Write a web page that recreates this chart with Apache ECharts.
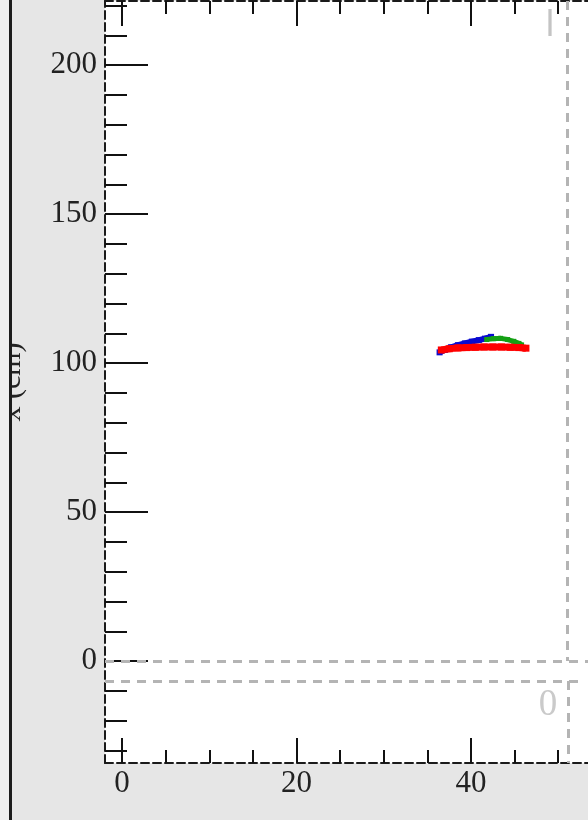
<!DOCTYPE html>
<html>
<head>
<meta charset="utf-8">
<script src="https://cdn.jsdelivr.net/npm/echarts@6/dist/echarts.min.js"></script>
<style>
  html, body { margin: 0; padding: 0; background: #e6e6e6; }
  #chart { width: 588px; height: 820px; }
</style>
</head>
<body>
<div id="chart"></div>
<script>
// Track points (x in cm along the beam, y = transverse x position in cm)
const blueX  = [36.4, 37.0, 37.7, 38.5, 39.3, 40.1, 40.9, 41.6, 42.3];
const blueY  = [103.6, 104.4, 105.3, 106.0, 106.6, 107.2, 107.7, 108.2, 108.8];
const greenX = [41.8, 42.6, 43.4, 44.2, 44.9, 45.5, 45.8];
const greenY = [107.9, 108.2, 108.3, 107.9, 107.3, 106.6, 106.1];
const redX   = [36.6, 37.5, 38.5, 39.5, 40.5, 41.5, 42.5, 43.5, 44.5, 45.5, 46.3];
const redY   = [104.4, 104.8, 105.1, 105.2, 105.3, 105.4, 105.4, 105.4, 105.3, 105.2, 105.0];

// Axis ticks and labels
const xMajor = [0, 20, 40];
const xMinor = [0, 5, 10, 15, 20, 25, 30, 35, 40, 45, 50, 55];
const yMajor = [0, 50, 100, 150, 200];
const yMinor = [-30, -20, -10, 0, 10, 20, 30, 40, 50, 60, 70, 80, 90, 100, 110,
                120, 130, 140, 150, 160, 170, 180, 190, 200, 210, 220];
const xRange = [-1.95, 56.05];
const yRange = [-34.2, 221.5];
const yTitle = 'x (cm)';

const pairs = (xs, ys) => xs.map((x, i) => [x, ys[i]]);

const chart = echarts.init(document.getElementById('chart'), null, { renderer: 'canvas' });

const serif = 'Liberation Serif, Times New Roman, serif';
const frameLine = { show: true, onZero: false, lineStyle: { color: '#1a1a1a', width: 2, type: [8, 4] } };
const noLine = { show: false, onZero: false };
const tickStyle = { color: '#111', width: 2 };

function xAxisDef(pos, ticks, len, labels, line) {
  return {
    type: 'value', position: pos, min: xRange[0], max: xRange[1],
    axisLine: line ? frameLine : noLine,
    splitLine: { show: false },
    axisTick: { show: true, inside: true, length: len, customValues: ticks, lineStyle: tickStyle },
    axisLabel: labels ? {
      show: true, customValues: labels, margin: 5,
      fontFamily: serif, fontSize: 31, color: '#222'
    } : { show: false }
  };
}
function yAxisDef(ticks, len, labels, line) {
  return {
    type: 'value', position: 'left', min: yRange[0], max: yRange[1],
    axisLine: line ? frameLine : noLine,
    splitLine: { show: false },
    axisTick: { show: true, inside: true, length: len, customValues: ticks, lineStyle: tickStyle },
    axisLabel: labels ? {
      show: true, customValues: labels, margin: 8,
      fontFamily: serif, fontSize: 31, color: '#222'
    } : { show: false }
  };
}

const padLine = { color: '#b4b4b4', width: 3, type: [9, 7] };

chart.setOption({
  backgroundColor: '#e6e6e6',
  animation: false,
  grid: {
    left: 105, top: 1, width: 506, height: 762,
    outerBoundsMode: 'none', containLabel: false,
    show: true, backgroundColor: '#ffffff', borderWidth: 0
  },
  xAxis: [
    xAxisDef('bottom', xMajor, 25, xMajor, true),
    xAxisDef('bottom', xMinor, 13, null, false),
    xAxisDef('top', xMajor, 25, null, true),
    xAxisDef('top', xMinor, 13, null, false)
  ],
  yAxis: [
    yAxisDef(yMajor, 43, yMajor, true),
    yAxisDef(yMinor, 22, null, false)
  ],
  graphic: [
    { type: 'rect', shape: { x: 0, y: 0, width: 9, height: 820 }, style: { fill: '#efefef' }, z: 20 },
    { type: 'rect', shape: { x: 9, y: 0, width: 3, height: 820 }, style: { fill: '#1c1c1c' }, z: 21 },
    {
      type: 'text', x: 27, y: 382, rotation: Math.PI / 2, z: 10,
      style: { text: yTitle, font: '30px ' + serif, fill: '#222', align: 'center', verticalAlign: 'bottom' }
    },
    {
      type: 'text', x: 550, y: 26, z: 10,
      style: { text: 'l', font: '36px Liberation Sans, sans-serif', fill: '#c4c4c4', align: 'center', verticalAlign: 'middle' }
    },
    {
      type: 'text', x: 548, y: 705, z: 10,
      style: { text: '0', font: '37px ' + serif, fill: '#cacaca', align: 'center', verticalAlign: 'middle' }
    }
  ],
  series: [
    {
      // neighbouring pad frames
      type: 'line', data: [], xAxisIndex: 0, yAxisIndex: 0, silent: true,
      markLine: {
        silent: true, symbol: 'none', animation: false, label: { show: false },
        lineStyle: padLine,
        data: [
          [{ coord: [xRange[0], 0] }, { coord: [xRange[1], 0] }],
          [{ coord: [xRange[0], -6.7] }, { coord: [52.3, -6.7] }],
          [{ coord: [51.0, yRange[1]] }, { coord: [51.0, 0] }],
          [{ coord: [51.2, -6.7] }, { coord: [51.2, yRange[0]] }]
        ]
      }
    },
    {
      name: 'blue', type: 'line', xAxisIndex: 0, yAxisIndex: 0,
      data: pairs(blueX, blueY), symbol: 'rect', symbolSize: 6, showSymbol: true,
      lineStyle: { color: '#0a0ad0', width: 6 }, itemStyle: { color: '#0a0ad0' }, z: 3
    },
    {
      name: 'green', type: 'line', xAxisIndex: 0, yAxisIndex: 0,
      data: pairs(greenX, greenY), symbol: 'rect', symbolSize: 5, showSymbol: true,
      lineStyle: { color: '#14a014', width: 5 }, itemStyle: { color: '#14a014' }, z: 4
    },
    {
      name: 'red', type: 'line', xAxisIndex: 0, yAxisIndex: 0,
      data: pairs(redX, redY), symbol: 'rect', symbolSize: 7, showSymbol: true,
      lineStyle: { color: '#ff0000', width: 7 }, itemStyle: { color: '#ff0000' }, z: 5
    }
  ]
});
</script>
</body>
</html>
